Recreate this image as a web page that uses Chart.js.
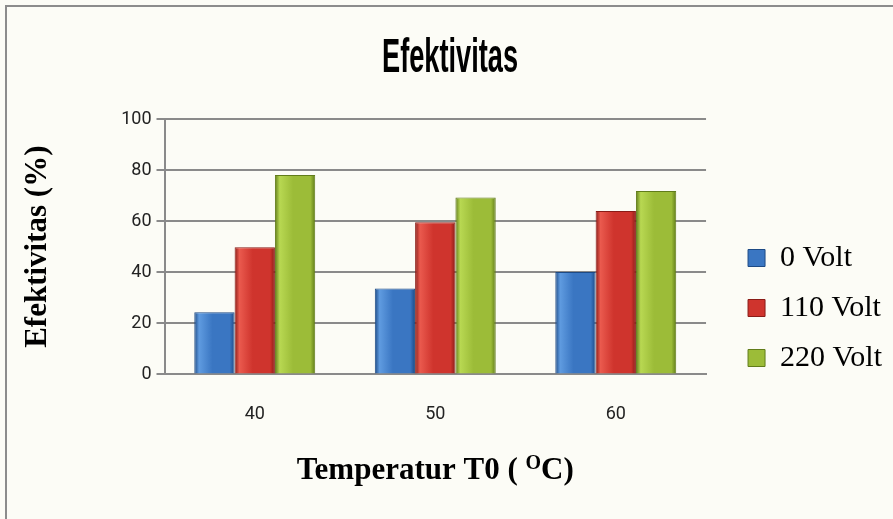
<!DOCTYPE html>
<html>
<head>
<meta charset="utf-8">
<script src="https://cdn.jsdelivr.net/npm/chart.js@4"></script>
<style>
  html, body { margin: 0; padding: 0; background: #ffffff; }
  #wrap { width: 893px; height: 519px; }
</style>
</head>
<body>
<div id="wrap"><canvas id="myChart" width="893" height="519"></canvas></div>
<script>
// Temperature categories (x axis)
const temperatures = ['40', '50', '60'];

// Effectiveness (%) per voltage
const volt0 = [24.3, 33.6, 40.1];
const volt110 = [49.8, 59.6, 64.0];
const volt220 = [78.1, 69.3, 71.8];

const seriesLabels = ['0 Volt', '110 Volt', '220 Volt'];
const yTicks = [0, 20, 40, 60, 80, 100];

const CAT_PCT = 0.67;

// base, light, dark colour per series
const palette = [
  ['#3a76c2', '#5f9be0', '#1d4a85'],
  ['#cf342d', '#ea5a4e', '#8a1c17'],
  ['#9cbc38', '#b8d852', '#617c1a']
];

// horizontal bevel gradient, position taken from the x scale
function bevel(idx) {
  return ctx => {
    const chart = ctx.chart;
    const xs = chart.scales.x;
    if (!xs || ctx.dataIndex === undefined || !isFinite(xs.width) || xs.width <= 0) return palette[idx][0];
    const cw = xs.width / temperatures.length;
    const gw = cw * CAT_PCT;
    const bw = gw / 3;
    const cx = xs.getPixelForValue(ctx.dataIndex);
    const left = cx - gw / 2 + bw * idx;
    const g = chart.ctx.createLinearGradient(left, 0, left + bw, 0);
    g.addColorStop(0, palette[idx][2]);
    g.addColorStop(0.12, palette[idx][1]);
    g.addColorStop(0.45, palette[idx][0]);
    g.addColorStop(0.88, palette[idx][0]);
    g.addColorStop(1, palette[idx][2]);
    return g;
  };
}

const datasets = [volt0, volt110, volt220].map((vals, idx) => ({
  label: seriesLabels[idx],
  data: vals,
  backgroundColor: bevel(idx),
  borderColor: palette[idx][2],
  borderWidth: 1,
  categoryPercentage: CAT_PCT,
  barPercentage: 1.0
}));

// frame, title and x-axis title (with superscript)
const framePlugin = {
  id: 'frame',
  beforeDraw(chart) {
    const c = chart.ctx;
    c.save();
    c.fillStyle = '#fcfcf6';
    c.fillRect(0, 0, chart.width, chart.height);
    c.strokeStyle = '#8c8c8c';
    c.lineWidth = 2;
    c.strokeRect(6, 6, chart.width + 20, chart.height + 20);
    c.restore();
  },
  afterDraw(chart) {
    const c = chart.ctx;
    const area = chart.chartArea;
    c.save();
    c.fillStyle = '#000';
    c.textBaseline = 'alphabetic';

    // condensed bold title
    c.font = 'bold 48px "Liberation Sans", Arial, sans-serif';
    const tw = c.measureText('Efektivitas').width;
    const sx = 136 / tw;
    c.save();
    c.translate(450, 72);
    c.scale(sx, 1);
    c.textAlign = 'center';
    c.fillText('Efektivitas', 0, 0);
    c.restore();

    // x axis title
    const main = 'bold 31px "Liberation Serif", "Times New Roman", serif';
    const sup = 'bold 20px "Liberation Serif", "Times New Roman", serif';
    const p1 = 'Temperatur T0 ( ', p2 = 'O', p3 = 'C)';
    c.textAlign = 'left';
    c.font = main;
    const w1 = c.measureText(p1).width, w3 = c.measureText(p3).width;
    c.font = sup;
    const w2 = c.measureText(p2).width;
    let x = (area.left + area.right) / 2 - (w1 + w2 + w3) / 2;
    const y = 479;
    c.font = main; c.fillText(p1, x, y); x += w1;
    c.font = sup; c.fillText(p2, x, y - 10); x += w2;
    c.font = main; c.fillText(p3, x, y);
    c.restore();
  }
};

const config = {
  type: 'bar',
  data: { labels: temperatures, datasets: datasets },
  options: {
    responsive: false,
    animation: false,
    layout: { padding: { top: 119, left: 19, right: 1, bottom: 22 } },
    plugins: {
      title: { display: false },
      legend: {
        display: true,
        position: 'right',
        align: 'center',
        maxWidth: 220,
        labels: {
          color: '#000',
          boxWidth: 17,
          boxHeight: 17,
          padding: 20,
          font: { family: '"Liberation Serif", "Times New Roman", serif', size: 30 },
          generateLabels: chart => seriesLabels.map((t, i) => ({
            text: t,
            fillStyle: palette[i][0],
            strokeStyle: palette[i][2],
            lineWidth: 1,
            datasetIndex: i
          }))
        }
      },
      tooltip: { enabled: false }
    },
    scales: {
      x: {
        grid: { display: false, drawTicks: false },
        border: { display: true, color: '#8a8a8a', width: 2 },
        ticks: {
          color: '#222',
          padding: 29,
          font: { family: 'Roboto, "Liberation Sans", sans-serif', size: 18 }
        },
        // space for the hand-drawn title
        title: {
          display: true,
          text: 'Temperatur T0 ( OC)',
          color: 'rgba(0,0,0,0)',
          padding: { top: 7, bottom: 0 },
          font: { family: '"Liberation Serif", serif', size: 30, weight: 'bold' }
        }
      },
      y: {
        min: 0,
        max: 100,
        afterBuildTicks: axis => { axis.ticks = yTicks.map(v => ({ value: v })); },
        grid: { color: '#8a8a8a', lineWidth: 2, tickLength: 8, drawTicks: true },
        border: { display: true, color: '#8a8a8a', width: 2 },
        ticks: {
          color: '#222',
          padding: 5,
          font: { family: 'Roboto, "Liberation Sans", sans-serif', size: 18 }
        },
        title: {
          display: true,
          text: 'Efektivitas (%)',
          color: '#000',
          padding: { top: 0, bottom: 63 },
          font: { family: '"Liberation Serif", "Times New Roman", serif', size: 31, weight: 'bold' }
        }
      },
      // spacer between plot and legend
      gap: {
        type: 'linear',
        position: 'right',
        display: true,
        grid: { display: false },
        border: { display: false },
        ticks: { display: false },
        afterFit: axis => { axis.width = 22; }
      }
    }
  },
  plugins: [framePlugin]
};

const ctx = document.getElementById('myChart').getContext('2d');
new Chart(ctx, config);
</script>
</body>
</html>
